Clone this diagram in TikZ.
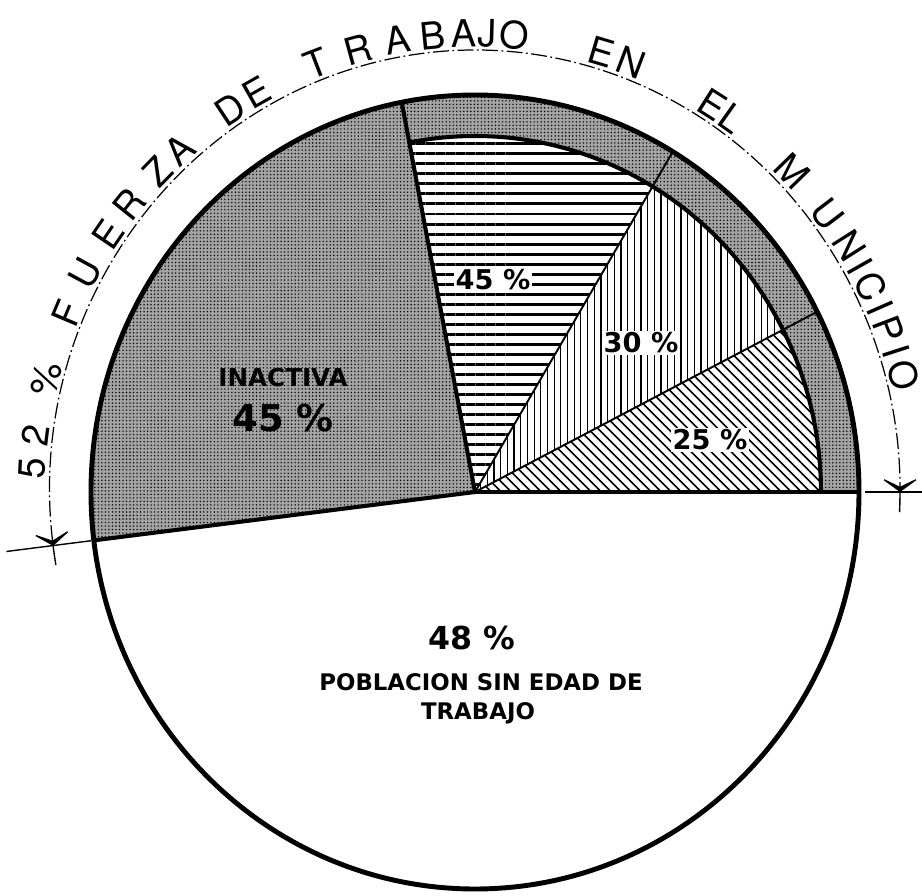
\documentclass[tikz,border=0pt]{standalone}
\usepackage{fontspec}
\setmainfont{DejaVu Sans}
\newfontfamily\arcfont{TeX Gyre Heros}
\usetikzlibrary{patterns.meta,arrows.meta}

\tikzset{
  stipple/.style={fill=black!36, postaction={pattern={Dots[radius=0.45pt,distance=2pt]}, pattern color=black}},
  hlines/.style={pattern={Lines[angle=0,distance=5.7pt,line width=1.7pt]}},
  vlines/.style={pattern={Lines[angle=90,distance=3.8pt,line width=0.7pt]}},
  dlines/.style={pattern={Lines[angle=-45,distance=4pt,line width=1pt]}},
  rim/.style={line width=2.8pt},
  thick edge/.style={line width=2.3pt},
  thin edge/.style={line width=1.1pt},
  dimline/.style={line width=0.7pt, dash pattern=on 9pt off 2pt on 1pt off 2pt},
  extline/.style={line width=0.8pt},
  pielabel/.style={inner sep=1pt},
  arcletter/.style={font=\arcfont\fontsize{21.5}{21.5}\selectfont, inner sep=0pt},
  dimtip/.tip={Stealth[length=9pt,width=25pt,inset=6pt]}
}

\begin{document}
\begin{tikzpicture}[x=0.02cm, y=0.02cm]
    \useasboundingbox (-475,-403) rectangle (447,492);
    \def\rx{384} \def\ry{397}
    \def\bx{346} \def\by{356}

    \coordinate (O) at (0,0);
    \coordinate (pR) at (0:{\rx} and {\ry});
    \coordinate (p27) at (27:{\rx} and {\ry});
    \coordinate (p59) at (59:{\rx} and {\ry});
    \coordinate (pT) at (101:{\rx} and {\ry});
    \coordinate (pL) at (187:{\rx} and {\ry});

    % inactiva
    \path[stipple] (O) -- (pT) arc[start angle=101,end angle=187,x radius=\rx,y radius=\ry] -- cycle;
    % outer band
    \path[stipple] (0:{\bx} and {\by}) arc[start angle=0,end angle=101,x radius=\bx,y radius=\by]
        -- (pT) arc[start angle=101,end angle=0,x radius=\rx,y radius=\ry] -- cycle;
    % activa
    \path[dlines] (O) -- (0:{\bx} and {\by}) arc[start angle=0,end angle=27,x radius=\bx,y radius=\by] -- cycle;
    \path[vlines] (O) -- (27:{\bx} and {\by}) arc[start angle=27,end angle=59,x radius=\bx,y radius=\by] -- cycle;
    \path[hlines] (O) -- (59:{\bx} and {\by}) arc[start angle=59,end angle=101,x radius=\bx,y radius=\by] -- cycle;

    \draw[thin edge] (O) -- (p27);
    \draw[thin edge] (O) -- (p59);
    \draw[thick edge] (O) -- (pR);
    \draw[thick edge] (O) -- (pT);
    \draw[thick edge] (O) -- (pL);
    \draw[thick edge] (0:{\bx} and {\by}) arc[start angle=0,end angle=101,x radius=\bx,y radius=\by];
    \draw[rim] (O) ellipse [x radius=\rx, y radius=\ry];

    \node[pielabel, font=\bfseries\fontsize{18}{18}\selectfont] (n48) at (-3,-146) {48 \%};
    \node[pielabel, font=\bfseries\fontsize{13}{13}\selectfont] (pob) at (6,-190) {POBLACION SIN EDAD DE};
    \node[pielabel, font=\bfseries\fontsize{13}{13}\selectfont] (trab) at (3,-221) {TRABAJO};
    \node[pielabel, font=\bfseries\fontsize{14}{14}\selectfont] (inac) at (-192,114) {INACTIVA};
    \node[pielabel, font=\bfseries\fontsize{21}{21}\selectfont] (n45i) at (-192,74) {45 \%};
    \node[pielabel, fill=white, font=\bfseries\fontsize{15.5}{15.5}\selectfont] (n45) at (18,212) {45 \%};
    \node[pielabel, fill=white, font=\bfseries\fontsize{15.5}{15.5}\selectfont] (n30) at (166,149) {30 \%};
    \node[pielabel, fill=white, font=\bfseries\fontsize{15.5}{15.5}\selectfont] (n25) at (235,52) {25 \%};

    % cota
    \coordinate (dL) at (187:425 and 442);
    \coordinate (dR) at (0:425 and 442);
    \draw[dimline, {dimtip}-{dimtip}] (dL) arc[start angle=187,end angle=0,x radius=425,y radius=442];
    \draw[extline] (dR) arc[start angle=0,end angle=-2.6,x radius=425,y radius=442];
    \draw[extline] (dL) arc[start angle=187,end angle=189.5,x radius=425,y radius=442];
    \coordinate (eL1) at (187:387 and 400);
    \coordinate (eL2) at (187:472 and 488);
    \coordinate (eR1) at (390,0);
    \coordinate (eR2) at (447,0);
    \draw[extline] (eL1) -- (eL2);
    \draw[extline] (eR1) -- (eR2);

    \foreach \ch/\ang [count=\i] in {5/177, 2/172.9, \%/165.8, F/157.1, U/151.5, E/145.8, R/141.2, Z/135.8, A/131.8,
        D/123.5, E/119.5, T/111, R/105.3, A/100.1, B/95.5, A/91.5, J/88.4, O/84.9,
        E/73.4, N/69.3, E/57.6, L/54.6, M/44.3, U/37.3, N/32.4, I/29.5, C/26.6, I/23.7, P/20.8, I/17.9, O/14.8}
        \node[arcletter, rotate=\ang-90] (ch\i) at (\ang:443 and 459) {\ch};
\end{tikzpicture}
\end{document}
